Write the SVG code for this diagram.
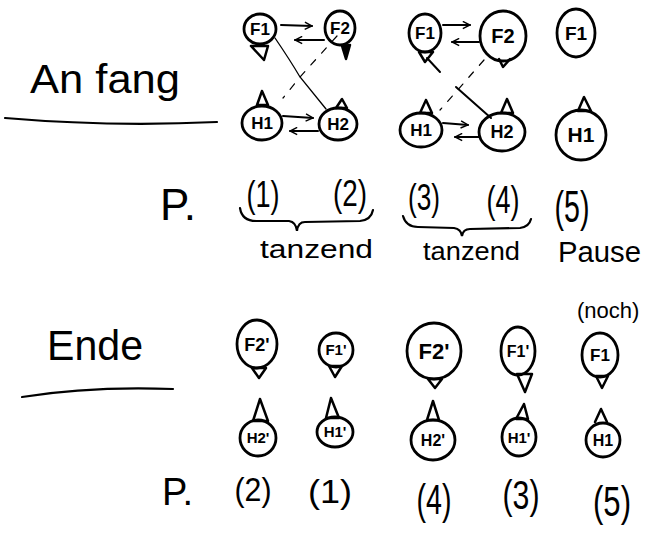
<svg xmlns="http://www.w3.org/2000/svg" width="645" height="536" viewBox="0 0 645 536">
<style>
.n ellipse{fill:none;stroke:#000;stroke-width:2.8}
.n polygon,.n polyline,.n path{fill:none;stroke:#000;stroke-width:2.5;stroke-linejoin:round;stroke-linecap:round}
.n text{font-family:"Liberation Sans",Arial,sans-serif;font-weight:bold;text-anchor:middle;fill:#000}
.c path{fill:none;stroke:#000;stroke-width:2;stroke-linecap:round}
.c .thin{stroke-width:1.3}
.c .dash{stroke-width:1.2;stroke-dasharray:7 9}
.t{font-family:"Liberation Sans",Arial,sans-serif;fill:#000}
.m{text-anchor:middle}
.b{fill:none;stroke:#000;stroke-width:2.2;stroke-linecap:round}
</style>
<defs>
<marker id="ah" viewBox="0 0 10 10" refX="9" refY="5" markerWidth="9" markerHeight="9" markerUnits="userSpaceOnUse" orient="auto">
<path d="M1,1 L9,5 L1,9" fill="none" stroke="#000" stroke-width="1.6"/>
</marker>
</defs>
<rect width="645" height="536" fill="#fff"/>

<!-- headings -->
<text class="t" x="30" y="93" font-size="40" textLength="150" lengthAdjust="spacingAndGlyphs">An fang</text>
<path class="b" d="M5,118 Q110,127 217,122"/>
<text class="t" x="47" y="360" font-size="42" textLength="96" lengthAdjust="spacingAndGlyphs">Ende</text>
<path class="b" d="M22,397 Q90,386 173,389"/>

<!-- connectors -->
<g id="connectors" class="c">
<path d="M281,25 L312,26" marker-end="url(#ah)"/>
<path d="M324,40 L295,40" marker-end="url(#ah)"/>
<path d="M283,116 L313,118" marker-end="url(#ah)"/>
<path d="M318,131 L290,131" marker-end="url(#ah)"/>
<path class="thin" d="M275,38 Q290,60 300,77 L326,109"/>
<path class="dash" d="M337,36 L300,77 L283,98"/>
<path d="M443,25 L470,25" marker-end="url(#ah)"/>
<path d="M479,42 L452,42" marker-end="url(#ah)"/>
<path d="M443,123 L468,125" marker-end="url(#ah)"/>
<path d="M479,137 L455,137" marker-end="url(#ah)"/>
<path class="dash" d="M484,60 L440,110"/>
<path d="M427,58 L440,72 M456,87 L491,118"/>
</g>

<!-- Anfang nodes -->
<g id="F1a" class="n"><ellipse cx="260" cy="29" rx="16" ry="15"/><polygon points="251,46 268,46 264,60"/><text x="260" y="35" font-size="17">F1</text></g>
<g id="F2a" class="n"><ellipse cx="340" cy="28" rx="15" ry="17"/><polygon points="342,46 350,45 346,59" style="fill:#000"/><text x="340" y="34" font-size="17">F2</text></g>
<g id="H1a" class="n"><ellipse cx="262" cy="123" rx="20" ry="17"/><polygon points="257,105 268,105 262,91"/><text x="262" y="129" font-size="17">H1</text></g>
<g id="H2a" class="n"><ellipse cx="338" cy="124" rx="19" ry="16"/><polygon points="336,108 347,108 342,99"/><text x="338" y="130" font-size="17">H2</text></g>

<g id="F1b" class="n"><ellipse cx="425" cy="33" rx="16" ry="19"/><polygon points="419,52 433,52 425,62"/><text x="425" y="39" font-size="17">F1</text></g>
<g id="F2b" class="n"><ellipse cx="503" cy="36" rx="23" ry="25"/><polyline points="499,59 503,67 510,59"/><text x="503" y="43" font-size="20">F2</text></g>
<g id="H1b" class="n"><ellipse cx="421" cy="130" rx="21" ry="17"/><polygon points="420,113 432,113 426,100"/><text x="421" y="136" font-size="17">H1</text></g>
<g id="H2b" class="n"><ellipse cx="502" cy="132" rx="23" ry="19"/><polygon points="501,113 513,113 507,99"/><text x="502" y="138" font-size="18">H2</text></g>

<g id="F1c" class="n"><ellipse cx="576" cy="33" rx="19" ry="24"/><text x="576" y="40" font-size="19">F1</text></g>
<g id="H1c" class="n"><ellipse cx="581" cy="135" rx="25" ry="25"/><polygon points="578,111 591,111 584,97"/><text x="581" y="142" font-size="21">H1</text></g>

<!-- Anfang positions -->
<text class="t" x="160" y="220" font-size="44">P.</text>
<text class="t m" x="263" y="207" font-size="36" textLength="33" lengthAdjust="spacingAndGlyphs">(1)</text>
<text class="t m" x="350" y="206" font-size="36" textLength="34" lengthAdjust="spacingAndGlyphs">(2)</text>
<text class="t m" x="424" y="210" font-size="36" textLength="32" lengthAdjust="spacingAndGlyphs">(3)</text>
<text class="t m" x="503" y="213" font-size="38" textLength="33" lengthAdjust="spacingAndGlyphs">(4)</text>
<text class="t m" x="572" y="222" font-size="44" textLength="35" lengthAdjust="spacingAndGlyphs">(5)</text>
<path class="b" d="M240,208 Q242,221 256,221 L289,221 Q296,222 297,231 Q298,222 305,222 L360,221 Q371,220 373,210"/>
<path class="b" d="M403,216 Q406,227 418,227 L454,228 Q461,229 462,236 Q463,229 470,229 L520,228 Q529,227 531,219"/>
<text class="t" x="260" y="258" font-size="26" textLength="113" lengthAdjust="spacingAndGlyphs">tanzend</text>
<text class="t" x="423" y="260" font-size="26" textLength="97" lengthAdjust="spacingAndGlyphs">tanzend</text>
<text class="t" x="558" y="262" font-size="30" textLength="83" lengthAdjust="spacingAndGlyphs">Pause</text>

<!-- Ende nodes -->
<text class="t" x="577" y="318" font-size="22">(noch)</text>
<g id="F2e1" class="n"><ellipse cx="257" cy="344" rx="20" ry="24"/><polygon points="252,368 266,368 259,378"/><text x="257" y="351" font-size="18">F2'</text></g>
<g id="F1e2" class="n"><ellipse cx="336" cy="350" rx="17" ry="17"/><polygon points="329,366 342,366 335,377"/><text x="336" y="355" font-size="15">F1'</text></g>
<g id="F2e3" class="n"><ellipse cx="434" cy="351" rx="27" ry="28"/><polygon points="428,379 442,379 435,388"/><text x="434" y="359" font-size="22">F2'</text></g>
<g id="F1e4" class="n"><ellipse cx="518" cy="351" rx="17" ry="24"/><polygon points="517,374 532,374 525,392"/><text x="518" y="357" font-size="16">F1'</text></g>
<g id="F1e5" class="n"><ellipse cx="600" cy="355" rx="18" ry="22"/><polygon points="596,376 608,376 602,388"/><text x="600" y="361" font-size="17">F1</text></g>

<g id="H2e1" class="n"><ellipse cx="258" cy="438" rx="18" ry="18"/><polygon points="253,421 268,421 260,399"/><text x="258" y="443" font-size="15">H2'</text></g>
<g id="H1e2" class="n"><ellipse cx="335" cy="432" rx="18" ry="15"/><polygon points="326,418 339,418 331,398"/><text x="335" y="437" font-size="15">H1'</text></g>
<g id="H2e3" class="n"><ellipse cx="433" cy="440" rx="22" ry="20"/><polygon points="427,420 439,420 433,401"/><text x="433" y="446" font-size="16">H2'</text></g>
<g id="H1e4" class="n"><ellipse cx="519" cy="437" rx="17" ry="19"/><polygon points="516,419 528,419 524,404"/><text x="519" y="443" font-size="15">H1'</text></g>
<g id="H1e5" class="n"><ellipse cx="603" cy="440" rx="17" ry="17"/><polyline points="595,422 601,409 607,422"/><text x="603" y="446" font-size="16">H1</text></g>

<!-- Ende positions -->
<text class="t" x="162" y="505" font-size="38">P.</text>
<text class="t m" x="253" y="501" font-size="34" textLength="37" lengthAdjust="spacingAndGlyphs">(2)</text>
<text class="t m" x="330" y="503" font-size="34" textLength="44" lengthAdjust="spacingAndGlyphs">(1)</text>
<text class="t m" x="434" y="514" font-size="42" textLength="35" lengthAdjust="spacingAndGlyphs">(4)</text>
<text class="t m" x="521" y="509" font-size="40" textLength="37" lengthAdjust="spacingAndGlyphs">(3)</text>
<text class="t m" x="612" y="516" font-size="42" textLength="38" lengthAdjust="spacingAndGlyphs">(5)</text>
</svg>
